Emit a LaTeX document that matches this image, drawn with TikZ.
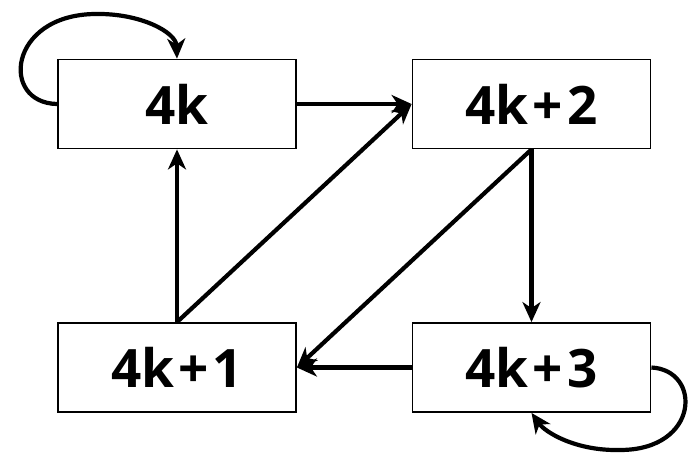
\documentclass[tikz,border=0pt]{standalone}
\usepackage{fontspec}
\setmainfont{Open Sans}
\usetikzlibrary{arrows.meta}
\newcommand{\plussp}{\hspace{4pt}+\hspace{4pt}}
\begin{document}
\begin{tikzpicture}[x=1pt,y=-1pt,
  numbox/.style={draw,line width=1.8pt,minimum width=238pt,minimum height=89pt,inner sep=0pt,font=\fontsize{53}{60}\selectfont\bfseries},
  conn/.style={line width=4.2pt,-{Stealth[length=20pt,width=18pt,inset=6pt]}}]
\useasboundingbox (0,0) rectangle (689,453);
\node[numbox] (a) at (177,104) {4k};
\node[numbox] (b) at (531.5,104) {4k\plussp2};
\node[numbox] (c) at (177,367.5) {4k\plussp1};
\node[numbox] (d) at (531.5,367.5) {4k\plussp3};
\draw[conn] (a.east) -- (b.west);
\draw[conn] (c.north) -- (a.south);
\draw[conn] (c.north) -- (b.west);
\draw[conn] (b.south) -- (c.east);
\draw[conn] (b.south) -- (d.north);
\draw[conn] (d.west) -- (c.east);
\coordinate (la) at (a.west);
\coordinate (lb) at (a.north);
\draw[conn] (la) .. controls (0,103) and (8,15) .. (95,14) .. controls (140,13) and (176,32) .. (lb);
\coordinate (ld) at (d.east);
\coordinate (le) at (d.south);
\draw[conn] (ld) .. controls (702,370) and (700,450) .. (620,450) .. controls (575,451) and (545,432) .. (le);
\end{tikzpicture}
\end{document}
